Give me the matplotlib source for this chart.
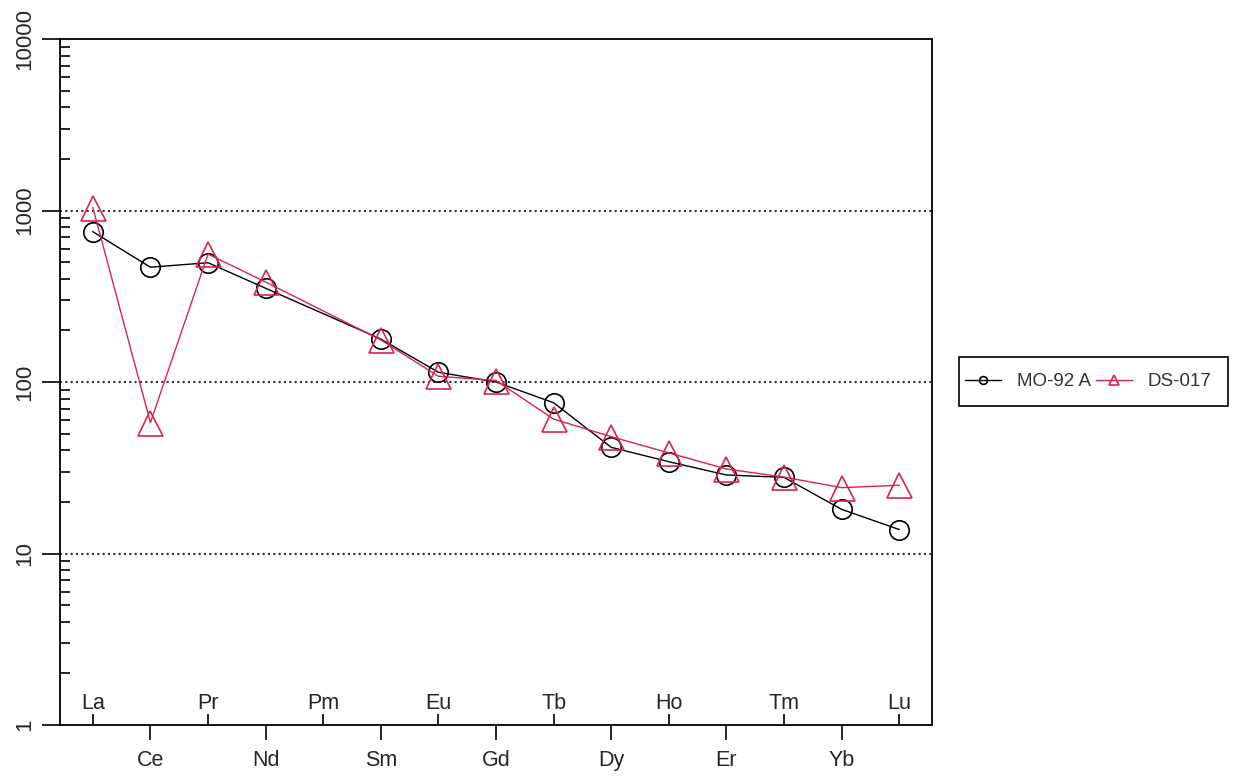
import numpy as np
import matplotlib
matplotlib.use("Agg")
import matplotlib.pyplot as plt
from matplotlib import transforms
from matplotlib.patches import Rectangle
from matplotlib.ticker import LogLocator, NullFormatter, FixedLocator

plt.rcParams['font.family'] = ['Liberation Sans', 'DejaVu Sans']

# Chondrite-normalised REE pattern (Pm not analysed)
elements = ["La", "Ce", "Pr", "Nd", "Pm", "Sm", "Eu", "Gd",
            "Tb", "Dy", "Ho", "Er", "Tm", "Yb", "Lu"]
mo92a = [752, 467, 496, 352, np.nan, 178, 114, 100,
         75.7, 41.6, 34.3, 28.7, 27.8, 18.1, 13.8]
ds017 = [1040, 58, 557, 383, np.nan, 176, 108, 102,
         60.8, 48.0, 38.6, 31.1, 27.9, 24.2, 25.0]
sample_names = ["MO-92 A", "DS-017"]
y_ticks = [1, 10, 100, 1000, 10000]
grid_levels = [10, 100, 1000]

RED = "#D6254F"
TEXT = "#262626"
W, H = 1237, 780

fig = plt.figure(figsize=(W / 100, H / 100), dpi=100)
ax = fig.add_axes([60 / W, 1 - 725 / H, (932 - 60) / W, (725 - 39) / H])

x = np.arange(len(elements))

def draw(values, color, marker, ms, label):
    v = np.asarray(values, dtype=float)
    ok = ~np.isnan(v)
    ax.plot(x[ok], v[ok], color=color, lw=1.0, marker=marker, ms=ms,
            mfc="none", mec=color, mew=1.2, label=label, zorder=3)

draw(mo92a, "black", "o", 14, sample_names[0])
draw(ds017, RED, "^", 18, sample_names[1])

for g in grid_levels:
    ax.axhline(g, color="black", lw=1.2, ls=(0, (1.2, 2.0)), zorder=1)

ax.set_yscale("log")
ax.set_ylim(1, 10000)
ax.set_xlim(-0.57, len(elements) - 1 + 0.57)

# y axis: major ticks outward, minor ticks inward
ax.yaxis.set_major_locator(FixedLocator(y_ticks))
ax.set_yticklabels([str(t) for t in y_ticks], rotation=90, va="center",
                   fontsize=16, color=TEXT)
ax.yaxis.set_minor_locator(LogLocator(base=10, subs=np.arange(2, 10)))
ax.yaxis.set_minor_formatter(NullFormatter())
ax.tick_params(axis="y", which="major", direction="out", length=13, width=1.2, pad=5)
ax.tick_params(axis="y", which="minor", direction="in", length=7, width=1.2)

# x axis: odd elements below with outward ticks, even elements inside with inward ticks
odd = x[1::2]
even = x[0::2]
ax.set_xticks(odd)
ax.set_xticklabels([elements[i] for i in odd], fontsize=15.5, color=TEXT)
ax.set_xticks(even, minor=True)
ax.tick_params(axis="x", which="major", direction="out", length=11, width=1.2, pad=7)
ax.tick_params(axis="x", which="minor", direction="in", length=8, width=1.2)
trans = transforms.offset_copy(
    transforms.blended_transform_factory(ax.transData, ax.transAxes),
    fig=fig, x=0, y=11, units="dots")
for i in even:
    ax.text(i, 0, elements[i], transform=trans, ha="center", va="bottom",
            fontsize=15.5, color=TEXT)

for s in ax.spines.values():
    s.set_linewidth(1.3)

# legend entries laid out in one row, with a separately drawn frame
leg = fig.legend(loc="center left", bbox_to_anchor=(965 / W, 1 - 381.5 / H),
                 ncol=2, fontsize=13.5, frameon=False,
                 handlelength=1.92, handletextpad=0.85, columnspacing=0.27,
                 borderpad=0, markerscale=0.4, borderaxespad=0)
for t in leg.get_texts():
    t.set_color("#333333")
fig.patches.append(Rectangle((959 / W, 1 - 406 / H), (1228 - 959) / W, 49 / H,
                             transform=fig.transFigure, fill=False,
                             edgecolor="black", linewidth=1.2))

fig.savefig("out.png", dpi=100)
